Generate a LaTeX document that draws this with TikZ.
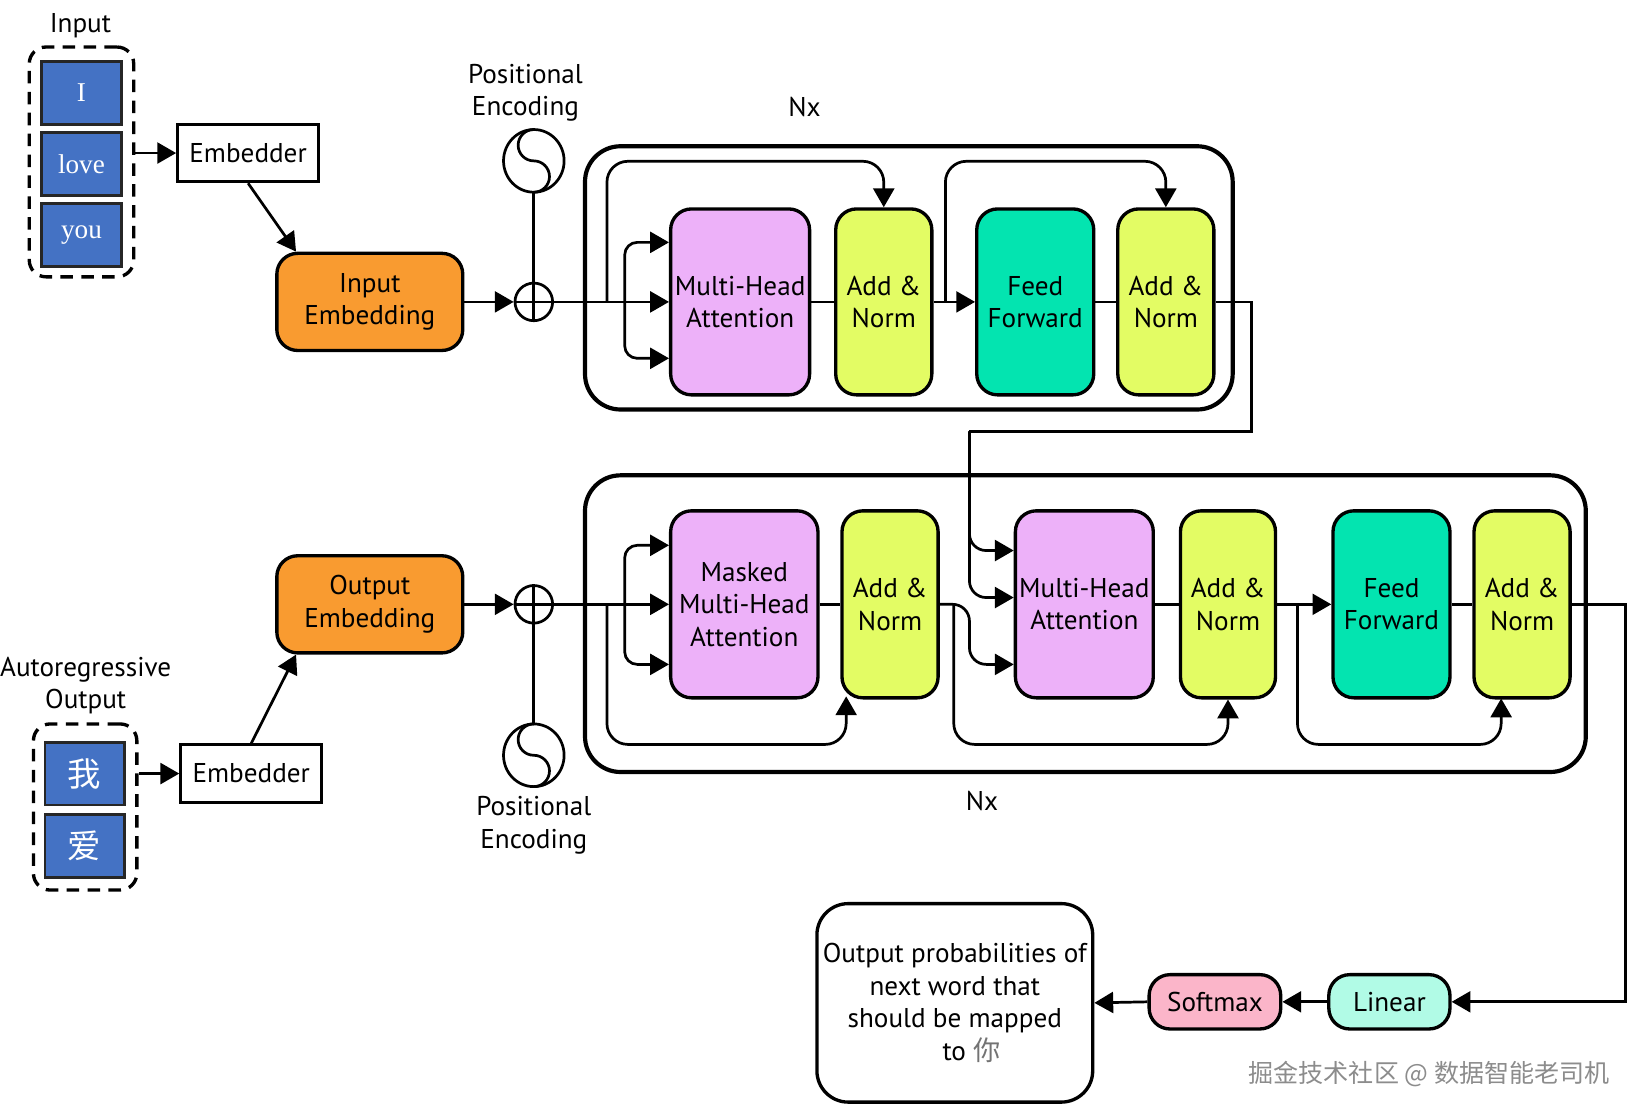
\documentclass[tikz,border=0pt]{standalone}
\usepackage{fontspec}
\setmainfont{PT Sans}
\newfontfamily\cjk{Noto Sans CJK SC}
\newfontfamily\serifr{Liberation Serif}
\usetikzlibrary{arrows.meta,shapes.geometric,calc}
\definecolor{tokblue}{HTML}{4472C4}
\definecolor{orng}{HTML}{F99B30}
\definecolor{pinkc}{HTML}{EDB1F9}
\definecolor{yel}{HTML}{E3FC64}
\definecolor{tealc}{HTML}{03E4B0}
\definecolor{linc}{HTML}{B1FBE6}
\definecolor{softc}{HTML}{FBB5C9}
\begin{document}
\begin{tikzpicture}[x=0.5pt,y=-0.5pt,
  every node/.style={font=\fontsize{13}{15.5}\selectfont, align=center, inner sep=0pt},
  arr/.style={line width=1.3pt, -{Triangle[length=9pt,width=10pt]}},
  ln/.style={line width=1.3pt},
  blk/.style={draw, line width=2pt, rounded corners=17pt},
  mod/.style={draw, line width=1.6pt, rounded corners=10pt, minimum height=89pt},
  tok/.style={draw=black!85, fill=tokblue, line width=1.3pt, minimum width=38pt, minimum height=30pt, text=white, font=\serifr\fontsize{13}{15}\selectfont},
  ctok/.style={tok, font=\cjk\fontsize{16}{16}\selectfont},
  dbox/.style={draw, line width=1.6pt, dash pattern=on 6pt off 4pt, rounded corners=8pt},
  embb/.style={draw, line width=1.4pt, minimum width=67.5pt, minimum height=27.5pt},
  embo/.style={mod, fill=orng, minimum width=89pt, minimum height=46.5pt},
  plusc/.style={circle, draw, line width=1.3pt, minimum size=18pt},
  sine/.style={ellipse, draw, line width=1.3pt, minimum width=29pt, minimum height=30pt, outer sep=0pt},
  pill/.style={draw, line width=1.6pt, rounded corners=10pt, minimum height=26pt},
]
\useasboundingbox (0,0) rectangle (1568,1070);

% ---------------- encoder input side ----------------
\node (inlab) at (77,25) {Input};
\node[dbox, minimum width=50pt, minimum height=110pt] (in1) at (78,155) {};
\node[tok] (tI) at (78,89) {I};
\node[tok] (tlove) at (78,157) {love};
\node[tok] (tyou) at (78,225) {you};
\node[embb] (emb1) at (237.5,146.5) {Embedder};
\node[embo] (inemb) at (354,289) {Input\\Embedding};
\node[plusc] (plus1) at (511,289) {};
\draw[line width=1.3pt] (plus1.north) -- (plus1.south) (plus1.west) -- (plus1.east);
\node[sine] (pe1) at (511,154) {};
\draw[line width=1.3pt] (pe1.north) arc[start angle=90,end angle=270,radius=7.5pt] arc[start angle=90,end angle=-90,radius=7.5pt];
\node (pe1lab) at (503,89) {Positional\\Encoding};

\draw[arr] (in1.east |- emb1.west) -- (emb1.west);
\draw[arr] (emb1.south) -- ([xshift=10pt]inemb.north west);
\draw[arr] (inemb.east) -- (plus1.west);
\draw[ln] (pe1.south) -- (plus1.north);

% ---------------- encoder block ----------------
\node[blk, minimum width=310pt, minimum height=126pt] (enc) at (870,266) {};
\node (nx1) at (770,102) {Nx};
\node[mod, fill=pinkc, minimum width=66.5pt] (mha1) at (708.5,289) {Multi-Head\\Attention};
\node[mod, fill=yel, minimum width=46pt] (an1) at (846,289) {Add \&\\Norm};
\node[mod, fill=tealc, minimum width=56pt] (ff1) at (991,289) {Feed\\Forward};
\node[mod, fill=yel, minimum width=46pt] (an2) at (1116,289) {Add \&\\Norm};

\draw[arr] (plus1.east) -- (mha1.west);
\coordinate (fk1) at (598,289);
\draw[arr, rounded corners=6pt] (fk1) |- ($(mha1.west)+(0,-57)$);
\draw[arr, rounded corners=6pt] (fk1) |- ($(mha1.west)+(0,54)$);
\coordinate (rs1) at (581,289);
\draw[arr, rounded corners=10pt] (rs1) |- ($(an1.north)+(0,-44)$) -- (an1.north);
\draw[ln] (mha1.east) -- (an1.west);
\draw[arr] (an1.east) -- (ff1.west);
\coordinate (rs2) at (905,289);
\draw[arr, rounded corners=10pt] (rs2) |- ($(an2.north)+(0,-44)$) -- (an2.north);
\draw[ln] (ff1.east) -- (an2.west);
\coordinate (eo1) at (1198,289);
\coordinate (eo2) at (1198,413);
\coordinate (eo3) at (928,413);
\draw[ln] (an2.east) -- (eo1) -- (eo2) -- (eo3);

% ---------------- decoder input side ----------------
\node (autolab) at (82,656) {Autoregressive\\Output};
\node[dbox, minimum width=49.5pt, minimum height=79.5pt] (in2) at (81.5,772.5) {};
\node[ctok] (wo) at (81,740.5) {我};
\node[ctok] (ai) at (81,810) {爱};
\node[embb] (emb2) at (240.5,740.5) {Embedder};
\node[embo] (outemb) at (354,578.5) {Output\\Embedding};
\node[plusc] (plus2) at (511,578.5) {};
\draw[line width=1.3pt] (plus2.north) -- (plus2.south) (plus2.west) -- (plus2.east);
\node[sine] (pe2) at (511,723) {};
\draw[line width=1.3pt] (pe2.north) arc[start angle=90,end angle=270,radius=7.5pt] arc[start angle=90,end angle=-90,radius=7.5pt];
\node (pe2lab) at (511,790) {Positional\\Encoding};

\draw[arr] (in2.east |- emb2.west) -- (emb2.west);
\draw[arr] (emb2.north) -- ([xshift=10pt]outemb.south west);
\draw[arr] (outemb.east) -- (plus2.west);
\draw[ln] (plus2.south) -- (pe2.north);

% ---------------- decoder block ----------------
\node[blk, minimum width=479pt, minimum height=142pt] (dec) at (1039,597) {};
\node (nx2) at (940,767) {Nx};
\node[mod, fill=pinkc, minimum width=70.5pt, minimum height=89.5pt] (mmha) at (712.5,578.5) {Masked\\Multi-Head\\Attention};
\node[mod, fill=yel, minimum width=46pt, minimum height=89.5pt] (dan1) at (852,578.5) {Add \&\\Norm};
\node[mod, fill=pinkc, minimum width=66pt, minimum height=89.5pt] (mha2) at (1038,578.5) {Multi-Head\\Attention};
\node[mod, fill=yel, minimum width=45.5pt, minimum height=89.5pt] (dan2) at (1175.5,578.5) {Add \&\\Norm};
\node[mod, fill=tealc, minimum width=56pt, minimum height=89.5pt] (dff) at (1332,578.5) {Feed\\Forward};
\node[mod, fill=yel, minimum width=46pt, minimum height=89.5pt] (dan3) at (1457,578.5) {Add \&\\Norm};

\draw[arr] (plus2.east) -- (mmha.west);
\coordinate (fk2) at (598,578.5);
\draw[arr, rounded corners=6pt] (fk2) |- ($(mmha.west)+(0,-56.5)$);
\draw[arr, rounded corners=6pt] (fk2) |- ($(mmha.west)+(0,57.5)$);
\coordinate (rsd1) at (581,578.5);
\draw[arr, rounded corners=10pt] (rsd1) |- ($(dan1.south)+(-42,43)$) -- ($(dan1.south)+(-42,-3)$);
\draw[ln] (mmha.east) -- (dan1.west);
\draw[arr, rounded corners=8pt] (eo3) |- ($(mha2.west)+(0,-51.5)$);
\draw[arr, rounded corners=8pt] (eo3) |- ($(mha2.west)+(0,-6.5)$);
\draw[arr, rounded corners=8pt] (dan1.east) -- (928,578.5) |- ($(mha2.west)+(0,57.5)$);
\coordinate (rsd2) at (913,578.5);
\draw[arr, rounded corners=10pt] (rsd2) |- ($(dan2.south)+(0,43)$) -- (dan2.south);
\draw[ln] (mha2.east) -- (dan2.west);
\draw[arr] (dan2.east) -- (dff.west);
\coordinate (rsd3) at (1242,578.5);
\draw[arr, rounded corners=10pt] (rsd3) |- ($(dan3.south)+(-20,43)$) -- ($(dan3.south)+(-20,-1)$);
\draw[ln] (dff.east) -- (dan3.west);

% ---------------- output head ----------------
\node[pill, fill=linc, minimum width=58pt] (linear) at (1330,959) {Linear};
\node[pill, fill=softc, minimum width=63pt] (softmax) at (1163,959) {Softmax};
\node[draw, line width=1.6pt, rounded corners=15pt, minimum width=132pt, minimum height=95pt] (outp) at (914,960) {Output probabilities of\\next word that\\should be mapped\\\hspace*{16pt}to {\cjk\color{black!55}你}};
\coordinate (do1) at (1556,578.5);
\draw[arr] (dan3.east) -- (do1) |- (linear.east);
\draw[arr] (linear.west) -- (softmax.east);
\draw[arr] (softmax.west) -- (outp.east);

\node[text=black!45, font=\cjk\fontsize{12}{14}\selectfont] (wm) at (1368,1028) {掘金技术社区 @ 数据智能老司机};
\end{tikzpicture}
\end{document}
